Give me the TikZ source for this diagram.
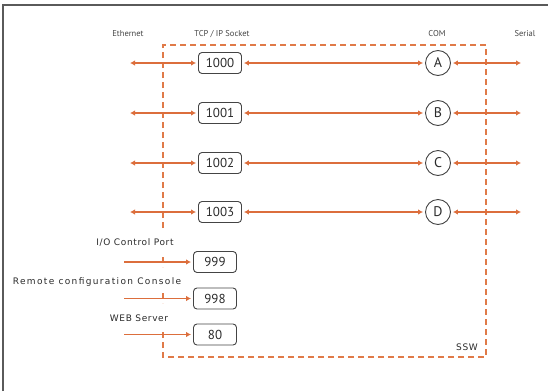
\documentclass[tikz,border=0pt]{standalone}
\usepackage{fontspec}
\setsansfont{PT Sans}
\newfontfamily\pixfont[LetterSpace=7]{DejaVu Sans}
\usepackage{tikz}
\usetikzlibrary{
  arrows.meta,
  positioning
}
\definecolor{wire}{HTML}{DC6E3C}
\definecolor{edge}{HTML}{E07A48}
\definecolor{frame}{HTML}{5A5A5A}
\definecolor{ink}{HTML}{2B2B2B}
\definecolor{inksoft}{HTML}{444444}
\tikzset{
  >=Latex,
  every node/.style={font=\sffamily, text=ink},
  headlabel/.style={
    font=\sffamily\fontsize{8.5}{10}\selectfont,
    text=inksoft
  },
  portlabel/.style={
    font=\pixfont\fontsize{9}{10}\selectfont,
    fill=white,
    inner sep=1pt
  },
  sockbox/.style={
    rounded corners=3.5pt,
    draw=inksoft,
    line width=0.9pt,
    minimum width=43pt,
    minimum height=21pt,
    inner sep=0pt,
    font=\sffamily\fontsize{13}{14}\selectfont
  },
  comport/.style={
    circle,
    draw=inksoft,
    line width=0.9pt,
    minimum size=25pt,
    inner sep=0pt,
    font=\sffamily\fontsize{14}{15}\selectfont
  },
  duplex/.style={{Latex[length=5pt,width=5.5pt]}-{Latex[length=5pt,width=5.5pt]}, line width=2.1pt, draw=wire, shorten <=2pt, shorten >=2pt},
  inbound/.style={-{Latex[length=5pt,width=5.5pt]}, draw=wire, shorten >=2pt},
  sswedge/.style={draw=edge, line width=1.8pt, dash pattern=on 6pt off 4pt},
}

\begin{document}
\begin{tikzpicture}[x=1pt, y=-1pt]

  \useasboundingbox (0,0) rectangle (548,391);

  % outer frame (cropped)
  \draw[frame, line width=1.5pt] (3,391) -- (3,5) -- (548,5);

  % =====================================================================
  % SSW box
  % =====================================================================
  \draw[sswedge] (163,228) -- (163,45) -- (486,45) -- (486,357) -- (163,357) -- (163,329);
  \draw[sswedge] (163,257) -- (163,267);
  \draw[sswedge] (163,293) -- (163,303);
  \node[font=\pixfont\fontsize{9}{10}\selectfont] (ssw) at (467,347) {SSW};

  % column headings
  \node[headlabel] (heth) at (128,34) {Ethernet};
  \node[headlabel] (htcp) at (222,34) {TCP / IP Socket};
  \node[headlabel] (hcom) at (437,34) {COM};
  \node[headlabel] (hser) at (525,34) {Serial};

  % =====================================================================
  % Socket <-> COM rows
  % =====================================================================
  \node[sockbox] (S1000) at (220,63) {1000};
  \node[sockbox] (S1001) at (220,113) {1001};
  \node[sockbox] (S1002) at (220,163) {1002};
  \node[sockbox] (S1003) at (220,212) {1003};

  \node[comport] (A) at (438,63) {A};
  \node[comport] (B) at (438,113) {B};
  \node[comport] (C) at (438,163) {C};
  \node[comport] (D) at (438,212) {D};

  \coordinate (eth1) at (130,63);
  \coordinate (eth2) at (130,113);
  \coordinate (eth3) at (130,163);
  \coordinate (eth4) at (130,212);
  \coordinate (ser1) at (521,63);
  \coordinate (ser2) at (521,113);
  \coordinate (ser3) at (521,163);
  \coordinate (ser4) at (521,212);

  \draw[duplex, shorten <=0pt] (eth1) -- (S1000);
  \draw[duplex] (S1000) -- (A);
  \draw[duplex, shorten >=0pt] (A) -- (ser1);

  \draw[duplex, shorten <=0pt] (eth2) -- (S1001);
  \draw[duplex] (S1001) -- (B);
  \draw[duplex, shorten >=0pt] (B) -- (ser2);

  \draw[duplex, shorten <=0pt] (eth3) -- (S1002);
  \draw[duplex] (S1002) -- (C);
  \draw[duplex, shorten >=0pt] (C) -- (ser3);

  \draw[duplex, shorten <=0pt] (eth4) -- (S1003);
  \draw[duplex] (S1003) -- (D);
  \draw[duplex, shorten >=0pt] (D) -- (ser4);

  % =====================================================================
  % service ports
  % =====================================================================
  \node[sockbox] (P999) at (215,262) {999};
  \node[sockbox] (P998) at (215,298.5) {998};
  \node[sockbox] (P80) at (215,334.5) {80};

  \node[portlabel] (lio) at (135,242) {I/O Control Port};
  \node[portlabel, font=\pixfont\addfontfeature{LetterSpace=15}\fontsize{9}{10}\selectfont]
    (lrc) at (97,282) {Remote configuration Console};
  \node[portlabel] (lweb) at (139,318) {WEB Server};

  \coordinate (io) at (124,262);
  \coordinate (rc) at (124,298.5);
  \coordinate (web) at (124,334.5);

  \draw[inbound, line width=2.4pt] (io) -- (P999);
  \draw[inbound, line width=1.9pt] (rc) -- (P998);
  \draw[inbound, line width=1.5pt] (web) -- (P80);

\end{tikzpicture}
\end{document}
